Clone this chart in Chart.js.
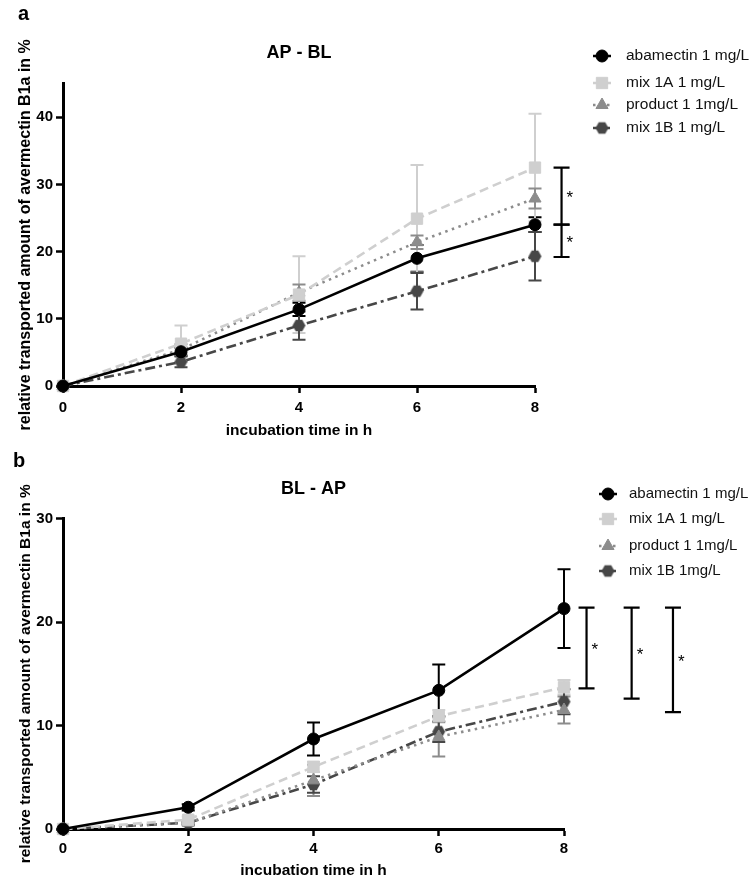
<!DOCTYPE html>
<html>
<head>
<meta charset="utf-8">
<script src="https://cdn.jsdelivr.net/npm/chart.js@4.4.0/dist/chart.umd.min.js"></script>
<style>
  html, body { margin: 0; padding: 0; background: #fff; }
  body { width: 751px; height: 883px; position: relative; overflow: hidden; font-family: "Liberation Sans", Arial, sans-serif; }
  .panel { position: absolute; left: 0; width: 751px; }
  #wrapA { top: 0; height: 440px; }
  #wrapB { top: 440px; height: 443px; }
  .letter { position: absolute; font-weight: bold; font-size: 20px; line-height: 20px; color: #000; }
</style>
</head>
<body>
<div class="panel" id="wrapA"><canvas id="chartA"></canvas></div>
<div class="panel" id="wrapB"><canvas id="chartB"></canvas></div>
<div class="letter" style="left:18px;top:3px">a</div>
<div class="letter" style="left:13px;top:450px">b</div>
<script>
// ============================================================
// DATA
// ============================================================
const hours = [0, 2, 4, 6, 8];
const namesA = ['abamectin 1 mg/L', 'mix 1A 1 mg/L', 'product 1 1mg/L', 'mix 1B 1 mg/L'];
const namesB = ['abamectin 1 mg/L', 'mix 1A 1 mg/L', 'product 1 1mg/L', 'mix 1B 1mg/L'];

// a: AP - BL
const abaA = [0, 5.1, 11.4, 19.0, 24.0];
const abaA_sd = [0, 0.6, 1.0, 2.0, 1.1];
const mix1A_A = [0, 6.3, 13.6, 24.9, 32.5];
const mix1A_A_sd = [0, 2.7, 5.7, 8.0, 8.0];
const prodA = [0, 5.4, 13.9, 21.4, 27.9];
const prodA_sd = [0, 0.8, 1.2, 1.0, 1.5];
const mix1B_A = [0, 3.6, 9.0, 14.1, 19.3];
const mix1B_A_sd = [0, 0.8, 2.1, 2.7, 3.6];

// b: BL - AP
const abaB = [0, 2.1, 8.7, 13.4, 21.3];
const abaB_sd = [0, 0.3, 1.6, 2.5, 3.8];
const mix1A_B = [0, 0.9, 6.0, 10.9, 13.7];
const mix1A_B_sd = [0, 0.3, 0.5, 0.6, 0.7];
const prodB = [0, 0.6, 4.7, 8.9, 11.5];
const prodB_sd = [0, 0.2, 1.5, 1.9, 1.3];
const mix1B_B = [0, 0.6, 4.3, 9.4, 12.3];
const mix1B_B_sd = [0, 0.2, 0.8, 1.0, 1.2];

// significance brackets: [x position in h, from %, to %]
const sigA = [[8.45, 32.5, 24.0], [8.45, 24.0, 19.2]];
const sigB = [[8.36, 21.4, 13.6], [9.08, 21.4, 12.6], [9.74, 21.4, 11.3]];

// ============================================================
// STYLE
// ============================================================
const FONT = '"Liberation Sans", Arial, Helvetica, sans-serif';
Chart.defaults.font.family = FONT;
Chart.defaults.color = '#000';

function hexagon(color, r) {
  const c = document.createElement('canvas');
  const s = Math.ceil(r * 2 + 2);
  c.width = s; c.height = s;
  const g = c.getContext('2d');
  g.fillStyle = color;
  g.beginPath();
  for (let i = 0; i < 6; i++) {
    const a = Math.PI / 3 * i;
    const px = s / 2 + r * Math.cos(a), py = s / 2 + r * Math.sin(a);
    i ? g.lineTo(px, py) : g.moveTo(px, py);
  }
  g.closePath();
  g.fill();
  return c;
}

const seriesStyles = [
  { color: '#000000', dash: [], point: 'circle', radius: 6 },
  { color: '#cfcfcf', dash: [9, 5], point: 'rect', radius: 8 },
  { color: '#8c8c8c', dash: [2.5, 4.5], point: 'triangle', radius: 7 },
  { color: '#474747', dash: [10, 4, 3, 4], point: hexagon('#474747', 6.5), radius: 6 },
];

// ============================================================
// PLUGINS
// ============================================================
const errorBars = {
  id: 'errorBars',
  beforeDatasetsDraw(chart) {
    const { ctx, scales: { x, y } } = chart;
    ctx.save();
    ctx.lineWidth = 2;
    chart.data.datasets.forEach(ds => {
      ctx.strokeStyle = ds.borderColor;
      ds.data.forEach((p, j) => {
        const sd = ds.sd[j];
        if (!sd) return;
        const px = x.getPixelForValue(p.x);
        const top = y.getPixelForValue(p.y + sd);
        const bot = y.getPixelForValue(p.y - sd);
        ctx.beginPath();
        ctx.moveTo(px, top); ctx.lineTo(px, bot);
        ctx.moveTo(px - 6.5, top); ctx.lineTo(px + 6.5, top);
        ctx.moveTo(px - 6.5, bot); ctx.lineTo(px + 6.5, bot);
        ctx.stroke();
      });
    });
    ctx.restore();
  }
};

const sigBrackets = {
  id: 'sigBrackets',
  afterDraw(chart, args, opts) {
    const { ctx, scales: { x, y } } = chart;
    ctx.save();
    ctx.strokeStyle = '#000';
    ctx.fillStyle = '#000';
    ctx.lineWidth = 2.2;
    ctx.font = '17px ' + FONT;
    ctx.textBaseline = 'middle';
    (opts.items || []).forEach(([xv, a, b]) => {
      const px = x.getPixelForValue(xv);
      const ya = y.getPixelForValue(a), yb = y.getPixelForValue(b);
      ctx.beginPath();
      ctx.moveTo(px, ya); ctx.lineTo(px, yb);
      ctx.moveTo(px - 8, ya); ctx.lineTo(px + 8, ya);
      ctx.moveTo(px - 8, yb); ctx.lineTo(px + 8, yb);
      ctx.stroke();
      ctx.fillText('*', px + 5, (ya + yb) / 2 + 2);
    });
    ctx.restore();
  }
};

const sideLegend = {
  id: 'sideLegend',
  afterDraw(chart, args, opts) {
    const ctx = chart.ctx;
    ctx.save();
    ctx.font = opts.fontSize + 'px ' + FONT;
    ctx.textBaseline = 'middle';
    chart.data.datasets.forEach((ds, i) => {
      const cy = opts.rows[i];
      ctx.strokeStyle = ds.borderColor;
      ctx.lineWidth = 2.5;
      ctx.setLineDash(ds.borderDash || []);
      ctx.beginPath();
      ctx.moveTo(opts.x - 9, cy); ctx.lineTo(opts.x + 9, cy);
      ctx.stroke();
      ctx.setLineDash([]);
      ctx.fillStyle = ds.pointBackgroundColor;
      ctx.strokeStyle = ds.pointBorderColor;
      ctx.lineWidth = 1;
      Chart.helpers.drawPoint(ctx, { pointStyle: ds.pointStyle, radius: ds.pointRadius, borderWidth: 1, rotation: 0 }, opts.x, cy);
      ctx.fillStyle = '#111';
      ctx.fillText(ds.label, opts.textX, cy);
    });
    ctx.restore();
  }
};

// ============================================================
// CHART BUILDER
// ============================================================
function buildDatasets(names, values, sds) {
  return names.map((name, i) => {
    const st = seriesStyles[i];
    return {
      label: name,
      data: hours.map((h, j) => ({ x: h, y: values[i][j] })),
      sd: sds[i],
      borderColor: st.color,
      borderWidth: 2.6,
      borderDash: st.dash,
      pointStyle: st.point,
      pointRadius: st.radius,
      pointHoverRadius: st.radius,
      pointBackgroundColor: st.color,
      pointBorderColor: st.color,
      pointBorderWidth: 1,
      tension: 0,
      clip: false,
    };
  });
}

function makeChart(id, p) {
  const axisFont = { size: 15, weight: 'bold' };
  return new Chart(document.getElementById(id), {
    type: 'line',
    data: { datasets: buildDatasets(p.names, p.values, p.sds) },
    plugins: [errorBars, sigBrackets, sideLegend],
    options: {
      responsive: true,
      maintainAspectRatio: false,
      animation: false,
      events: [],
      layout: { padding: { left: 0, right: p.padRight, top: 0, bottom: 0 } },
      plugins: {
        legend: { display: false },
        tooltip: { enabled: false },
        title: {
          display: true, text: p.title, fullSize: false, color: '#000',
          font: { size: 18, weight: 'bold' },
          padding: { top: p.titleTop, bottom: p.titleBottom },
        },
        sigBrackets: { items: p.sig },
        sideLegend: { x: p.legendX, textX: p.legendTextX, rows: p.legendRows, fontSize: p.legendFont },
      },
      scales: {
        x: {
          type: 'linear', min: 0, max: 8,
          afterFit: s => { s.height = 54; },
          border: { color: '#000', width: 3 },
          grid: { drawOnChartArea: false, drawTicks: true, tickLength: 7, tickWidth: 2.5, tickColor: '#000' },
          ticks: { stepSize: 2, color: '#000', font: axisFont, padding: p.xTickPad },
          title: { display: true, text: 'incubation time in h', color: '#000', font: { size: 15.5, weight: 'bold' }, padding: { top: 0, bottom: p.xTitleBottom } },
        },
        y: {
          min: 0, max: p.yMax,
          afterFit: s => { s.width = 63; },
          afterBuildTicks: s => { s.ticks = s.ticks.filter(t => t.value % 10 === 0); },
          border: { color: '#000', width: 3 },
          grid: { drawOnChartArea: false, drawTicks: true, tickLength: 7, tickWidth: 2.5, tickColor: '#000' },
          ticks: { stepSize: 10, color: '#000', font: axisFont, padding: 3 },
          title: {
            display: true, text: 'relative transported amount of avermectin B1a in %', color: '#000',
            font: { size: p.yTitleSize, weight: 'bold' }, padding: { top: 16, bottom: 0 },
          },
        },
      },
    },
  });
}

makeChart('chartA', {
  names: namesA,
  values: [abaA, mix1A_A, prodA, mix1B_A],
  sds: [abaA_sd, mix1A_A_sd, prodA_sd, mix1B_A_sd],
  sig: sigA,
  title: 'AP - BL', titleTop: 42, titleBottom: 20,
  yMax: 45, yTitleSize: 16,
  padRight: 216, xTitleBottom: 0, xTickPad: 6,
  legendX: 602, legendTextX: 626, legendRows: [56, 83, 105, 128], legendFont: 15.5,
});

makeChart('chartB', {
  names: namesB,
  values: [abaB, mix1A_B, prodB, mix1B_B],
  sds: [abaB_sd, mix1A_B_sd, prodB_sd, mix1B_B_sd],
  sig: sigB,
  title: 'BL - AP', titleTop: 38, titleBottom: 19,
  yMax: 30, yTitleSize: 15.5,
  padRight: 187, xTitleBottom: 3, xTickPad: 4,
  legendX: 608, legendTextX: 629, legendRows: [54, 79, 106, 131], legendFont: 15,
});
</script>
</body>
</html>
